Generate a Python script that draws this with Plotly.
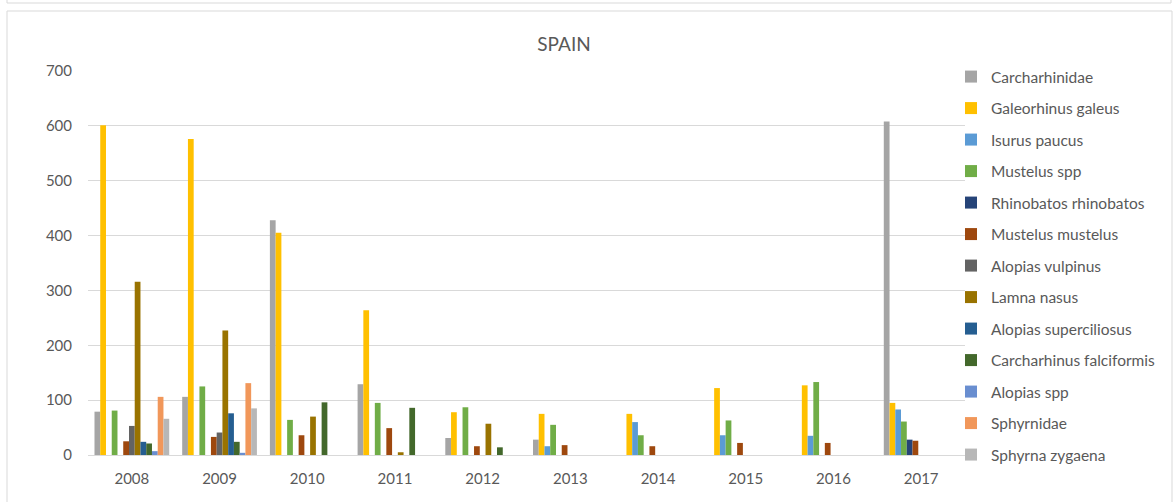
import plotly.graph_objects as go

years = ["2008", "2009", "2010", "2011", "2012", "2013", "2014", "2015", "2016", "2017"]

carcharhinidae = [79, 106, 428, 129, 31, 28, 0, 0, 0, 608]
galeorhinus_galeus = [601, 576, 405, 264, 78, 75, 75, 122, 127, 95]
isurus_paucus = [0, 0, 0, 0, 0, 16, 60, 36, 35, 83]
mustelus_spp = [81, 125, 64, 95, 87, 55, 36, 63, 133, 61]
rhinobatos_rhinobatos = [0, 0, 0, 0, 0, 0, 0, 0, 0, 28]
mustelus_mustelus = [25, 33, 36, 49, 16, 18, 16, 22, 22, 26]
alopias_vulpinus = [53, 41, 0, 0, 0, 0, 0, 0, 0, 0]
lamna_nasus = [316, 227, 70, 5, 57, 0, 0, 0, 0, 0]
alopias_superciliosus = [24, 76, 0, 0, 0, 0, 0, 0, 0, 0]
carcharhinus_falciformis = [21, 24, 96, 86, 14, 0, 0, 0, 0, 0]
alopias_spp = [7, 4, 0, 0, 0, 0, 0, 0, 0, 0]
sphyrnidae = [106, 131, 0, 0, 0, 0, 0, 0, 0, 0]
sphyrna_zygaena = [66, 85, 0, 0, 0, 0, 0, 0, 0, 0]

series = [
    ("Carcharhinidae", carcharhinidae, "#A5A5A5"),
    ("Galeorhinus galeus", galeorhinus_galeus, "#FFC000"),
    ("Isurus paucus", isurus_paucus, "#5B9BD5"),
    ("Mustelus spp", mustelus_spp, "#70AD47"),
    ("Rhinobatos rhinobatos", rhinobatos_rhinobatos, "#264478"),
    ("Mustelus mustelus", mustelus_mustelus, "#9E480E"),
    ("Alopias vulpinus", alopias_vulpinus, "#636363"),
    ("Lamna nasus", lamna_nasus, "#997300"),
    ("Alopias superciliosus", alopias_superciliosus, "#255E91"),
    ("Carcharhinus falciformis", carcharhinus_falciformis, "#43682B"),
    ("Alopias spp", alopias_spp, "#698ED0"),
    ("Sphyrnidae", sphyrnidae, "#F1975A"),
    ("Sphyrna zygaena", sphyrna_zygaena, "#B7B7B7"),
]

W, H = 1176, 502
L, R, T, B = 88, 211, 71, 47
PW, PH = W - L - R, H - T - B

def px_x(p):
    return (p - L) / PW

def px_y(p):
    return (H - B - p) / PH

fig = go.Figure()
for i, (name, vals, col) in enumerate(series):
    fig.add_trace(go.Bar(
        x=years, y=vals, name=name, legendgroup=f"g{i}",
        marker=dict(color=col, line=dict(width=0)),
    ))

FONT = "Lato, Open Sans, sans-serif"
GRAY = "#595959"
LEG_FONT = 15.5

shapes = [
    # chart area border
    dict(type="rect", xref="paper", yref="paper",
         x0=px_x(7), x1=px_x(1172), y0=px_y(515), y1=px_y(11),
         line=dict(color="#D9D9D9", width=1), fillcolor="rgba(0,0,0,0)", layer="below"),
    # bottom of previous chart
    dict(type="path", xref="paper", yref="paper",
         path=f"M{px_x(7)},{px_y(-5)} L{px_x(7)},{px_y(3)} L{px_x(1171)},{px_y(3)} L{px_x(1171)},{px_y(-5)}",
         line=dict(color="#D9D9D9", width=1), layer="below"),
]

fig.update_layout(
    width=W, height=H,
    margin=dict(l=L, r=R, t=T, b=B, pad=0),
    paper_bgcolor="white", plot_bgcolor="white",
    barmode="group", bargap=0.148, bargroupgap=0,
    font=dict(family=FONT, color=GRAY, size=14),
    title=dict(text="SPAIN", xref="container", x=564 / W, xanchor="center",
               yref="container", y=1 - 44 / H, yanchor="middle",
               font=dict(family=FONT, size=19, color=GRAY)),
    xaxis=dict(showgrid=False, showline=True, linecolor="#D9D9D9", linewidth=1,
               ticks="", tickfont=dict(size=15, color=GRAY), ticklabelstandoff=10,
               fixedrange=True),
    yaxis=dict(range=[0, 700], dtick=100, showgrid=True, gridcolor="#D9D9D9", gridwidth=1,
               zeroline=False, showline=False, ticks="",
               tickfont=dict(size=15, color=GRAY), ticklabelstandoff=15, fixedrange=True),
    legend=dict(x=px_x(951), xanchor="left", y=px_y(60), yanchor="top",
                font=dict(size=LEG_FONT, color=GRAY),
                tracegroupgap=31.5 - (LEG_FONT * 1.3 + 3),
                maxheight=1.0,
                bgcolor="rgba(0,0,0,0)", itemclick=False, itemdoubleclick=False),
    shapes=shapes,
    showlegend=True,
)

fig.write_html("out.html",
               config={"displayModeBar": False, "staticPlot": False},
               post_script="document.body.style.margin='0';document.body.style.overflow='hidden';")
